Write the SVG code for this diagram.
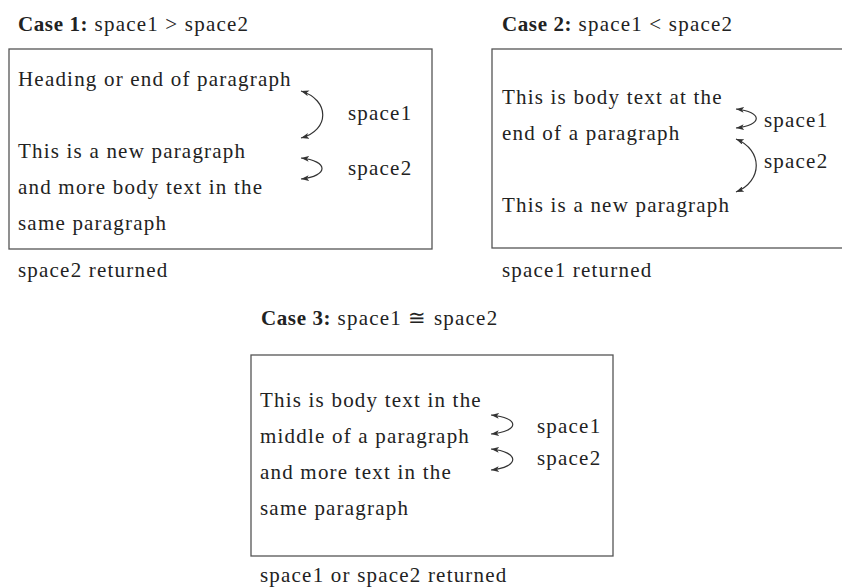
<svg xmlns="http://www.w3.org/2000/svg" width="842" height="587" viewBox="0 0 842 587">
<style>
  text { font-family: "Liberation Serif", "Times New Roman", serif; font-size: 21px; fill: #222; letter-spacing: 1.2px; }
  .b { font-weight: bold; letter-spacing: 0.6px; }
  .box { fill: none; stroke: #555; stroke-width: 1.3; }
  .arc { fill: none; stroke: #333; stroke-width: 1.2; marker-start: url(#ah); marker-end: url(#ah); }
</style>
<defs>
  <marker id="ah" markerUnits="userSpaceOnUse" markerWidth="8" markerHeight="6" refX="8" refY="3" orient="auto-start-reverse" viewBox="0 0 8 6">
    <path d="M0,0 L8,3 L0,6 L2,3 Z" fill="#333"/>
  </marker>
</defs>
<rect width="842" height="587" fill="#fff"/>

<g id="case1">
  <text x="18" y="31"><tspan class="b">Case 1:</tspan> space1 &gt; space2</text>
  <rect class="box" x="9" y="49" width="423" height="200"/>
  <text x="18" y="86">Heading or end of paragraph</text>
  <text x="18" y="158">This is a new paragraph</text>
  <text x="18" y="194">and more body text in the</text>
  <text x="18" y="230">same paragraph</text>
  <text x="348" y="120">space1</text>
  <text x="348" y="175">space2</text>
  <text x="18" y="277">space2 returned</text>
</g>

<g id="case2">
  <text x="502" y="31"><tspan class="b">Case 2:</tspan> space1 &lt; space2</text>
  <rect class="box" x="492" y="49" width="380" height="199"/>
  <text x="502" y="104">This is body text at the</text>
  <text x="502" y="140">end of a paragraph</text>
  <text x="502" y="212">This is a new paragraph</text>
  <text x="764" y="127">space1</text>
  <text x="764" y="168">space2</text>
  <text x="502" y="277">space1 returned</text>
</g>

<g id="case3">
  <text x="261" y="325"><tspan class="b">Case 3:</tspan> space1 ≅ space2</text>
  <rect class="box" x="251" y="355" width="362" height="201"/>
  <text x="260" y="407">This is body text in the</text>
  <text x="260" y="443">middle of a paragraph</text>
  <text x="260" y="479">and more text in the</text>
  <text x="260" y="515">same paragraph</text>
  <text x="537" y="433">space1</text>
  <text x="537" y="465">space2</text>
  <text x="260" y="582">space1 or space2 returned</text>
</g>

<g id="connectors">
  <path class="arc" d="M301,91 C330,100 330,130 301,138"/>
  <path class="arc" d="M301,158 C329,161 329,176 301,179"/>
  <path class="arc" d="M736,109 C763,112 763,125 736,128"/>
  <path class="arc" d="M736,139 C763,150 763,181 736,192"/>
  <path class="arc" d="M491,415 C520,418 520,431 491,434"/>
  <path class="arc" d="M491,449 C520,452 520,467 491,470"/>
</g>
</svg>
